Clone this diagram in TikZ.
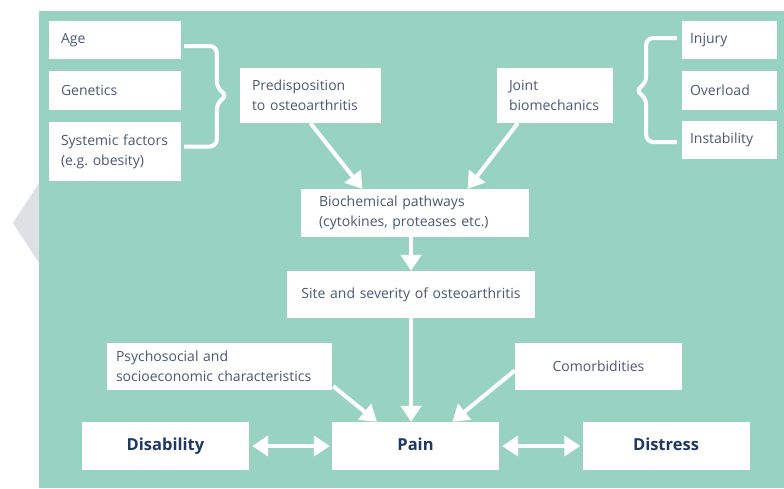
\documentclass[tikz,border=0pt]{standalone}
\usepackage{fontspec}
\setmainfont{Open Sans}
\usepackage{xcolor}
\usetikzlibrary{positioning, calc, arrows.meta}

\definecolor{bgGreen}{HTML}{97D3C0}
\definecolor{shapeGray}{HTML}{DDE1E4}
\definecolor{txtGray}{HTML}{4B5875}
\definecolor{txtNavy}{HTML}{1E3764}

\begin{document}
\frenchspacing
\begin{tikzpicture}[
    x=1pt, y=-1pt,
    boxNode/.style={rectangle, fill=white, inner xsep=12pt, inner ysep=0pt, align=left, text=txtGray, font=\fontsize{14}{20}\selectfont},
    mainNode/.style={rectangle, fill=white, inner sep=0pt, minimum width=167pt, minimum height=48pt, text height=12pt, text depth=4pt, text=txtNavy, font=\bfseries\fontsize{16.5}{20}\selectfont},
    flowArrow/.style={draw=white, line width=4pt, -{Triangle[width=20pt,length=16pt]}},
    biArrow/.style={draw=white, line width=4pt, {Triangle[width=20pt,length=16pt]}-{Triangle[width=20pt,length=16pt]}, shorten <=3pt, shorten >=2pt},
    bracket/.style={draw=white, line width=4pt, rounded corners=7pt}
]
    \useasboundingbox (0,0) rectangle (784,488);

    % Background
    \fill[white] (0,0) rectangle (784,488);
    \fill[shapeGray] (39,183) -- (13,223) -- (39,263) -- cycle;
    \fill[bgGreen] (39,11) rectangle (784,488);

    % Risk factors (left)
    \node[boxNode, text width=108pt, minimum height=38pt] (age) at (115,40) {Age};
    \node[boxNode, text width=108pt, minimum height=39pt] (gen) at (115,90.5) {Genetics};
    \node[boxNode, text width=108pt, minimum height=59pt] (sys) at (115,151.5) {Systemic factors\\(e.g. obesity)};

    % Risk factors (right)
    \node[boxNode, inner xsep=8pt, text width=79pt, minimum height=38pt] (inj) at (729.5,40) {Injury};
    \node[boxNode, inner xsep=8pt, text width=79pt, minimum height=39pt] (over) at (729.5,90.5) {Overload};
    \node[boxNode, inner xsep=8pt, text width=79pt, minimum height=38pt] (inst) at (729.5,140) {Instability};

    % Middle chain
    \node[boxNode, text width=117pt, minimum height=55pt] (pred) at (310.5,95.5) {Predisposition\\to osteoarthritis};
    \node[boxNode, text width=92pt, minimum height=55pt] (joint) at (555,95.5) {Joint\\biomechanics};
    \node[boxNode, inner xsep=18pt, text width=192pt, minimum height=48pt] (bio) at (415,213) {Biochemical pathways\\(cytokines, proteases etc.)};
    \node[boxNode, align=center, text width=224pt, minimum height=47pt] (site) at (411,294.5) {Site and severity of osteoarthritis};
    \node[boxNode, inner xsep=9pt, text width=207pt, minimum height=47pt] (psy) at (219.5,366.5) {Psychosocial and\\socioeconomic characteristics};
    \node[boxNode, align=center, text width=143pt, minimum height=47pt] (com) at (598.5,366.5) {Comorbidities};

    % Outcomes
    \node[mainNode] (dis) at (165.5,446) {Disability};
    \node[mainNode] (pain) at (415.5,446) {Pain};
    \node[mainNode] (dist) at (666,446) {Distress};

    % Brackets
    \coordinate (lbTop) at ($(age.east)+(3,6)$);
    \coordinate (lbBot) at ($(sys.east)+(3,-5)$);
    \coordinate (lbTip) at ($(pred.west)+(-12,0)$);
    \draw[bracket] (lbTop) -| ($(lbTip)+(-11,-7)$) -- (lbTip) -- ($(lbTip)+(-11,7)$) |- (lbBot);

    \coordinate (rbTop) at ($(inj.west)+(-5,-2)$);
    \coordinate (rbBot) at ($(inst.west)+(-5,2)$);
    \coordinate (rbTip) at ($(joint.east)+(22,-5)$);
    \draw[bracket] (rbTop) -| ($(rbTip)+(11,-7)$) -- (rbTip) -- ($(rbTip)+(11,7)$) |- (rbBot);

    % Connecting arrows
    \draw[flowArrow] (pred.south) -- ($(bio.north west)!0.27!(bio.north east)$);
    \draw[flowArrow] ($(joint.south west)!0.18!(joint.south east)$) -- ($(bio.north west)!0.73!(bio.north east)$);
    \draw[flowArrow] (site.north |- bio.south) -- (site.north);
    \draw[flowArrow] (site.south) -- (site.south |- pain.north);
    \draw[flowArrow] ($(psy.south east)+(1,-4)$) -- ($(pain.north west)!0.27!(pain.north east)$);
    \draw[flowArrow] ($(com.west)+(0,4)$) -- ($(pain.north west)!0.72!(pain.north east)$);
    \draw[biArrow] (dis) -- (pain);
    \draw[biArrow] (pain) -- (dist);

\end{tikzpicture}
\end{document}
